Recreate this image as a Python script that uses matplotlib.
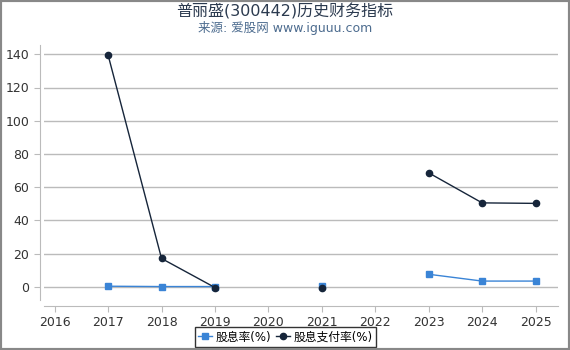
import numpy as np
import matplotlib.pyplot as plt
from matplotlib.patches import Rectangle

plt.rcParams['font.family'] = ['DejaVu Sans', 'Noto Sans CJK SC']

years = [2016, 2017, 2018, 2019, 2020, 2021, 2022, 2023, 2024, 2025]
yield_pct = [np.nan, 0.3, 0.1, 0.1, np.nan, 0.2, np.nan, 7.5, 3.4, 3.4]
payout_pct = [np.nan, 139.5, 17.0, -0.5, np.nan, -0.8, np.nan, 68.6, 50.5, 50.2]

fig = plt.figure(figsize=(5.7, 3.5), dpi=100)
ax = fig.add_axes([44 / 570, 1 - 300 / 350, (558 - 44) / 570, (300 - 45) / 350])

ax.plot(years, yield_pct, color='#3a84d6', lw=1, marker='s', ms=4.5,
        label='股息率(%)', zorder=3)
ax.plot(years, payout_pct, color='#16253a', lw=1, marker='o', ms=4.5,
        label='股息支付率(%)', zorder=4)

ax.set_xlim(2015.8, 2025.42)
ax.set_ylim(-8, 145.6)
ax.set_xticks(years)
ax.set_yticks(np.arange(0, 141, 20))
ax.grid(axis='y', color='#bbbbbb', lw=1)
ax.set_axisbelow(True)

for s in ['top', 'right']:
    ax.spines[s].set_visible(False)
ax.spines['left'].set_position(('outward', 3))
ax.spines['bottom'].set_position(('outward', 4))
ax.spines['left'].set_color('#bbbbbb')
ax.spines['bottom'].set_color('#bbbbbb')
ax.tick_params(axis='both', colors='#bbbbbb', labelcolor='#333333', labelsize=9, length=4)

fig.text(0.5, 1 - 11 / 350, '普丽盛(300442)历史财务指标', ha='center', va='center',
         fontsize=11.5, color='#2b3a4f')
fig.text(0.5, 1 - 28 / 350, '来源: 爱股网 www.iguuu.com', ha='center', va='center',
         fontsize=9, color='#4d6c8f')

leg = ax.legend(loc='center', bbox_to_anchor=((285.5 - 44) / 514, (300 - 337) / 255),
                ncol=2, fontsize=8.5, frameon=True, fancybox=False, handlelength=1.2,
                handletextpad=0.3, columnspacing=0.4, borderpad=0.3)
leg.get_frame().set_edgecolor('black')
leg.get_frame().set_linewidth(1)

fig.patches.append(Rectangle((0, 0), 1, 1, transform=fig.transFigure, fill=False,
                             edgecolor='#888888', lw=3))

fig.savefig('out.png', dpi=100)
